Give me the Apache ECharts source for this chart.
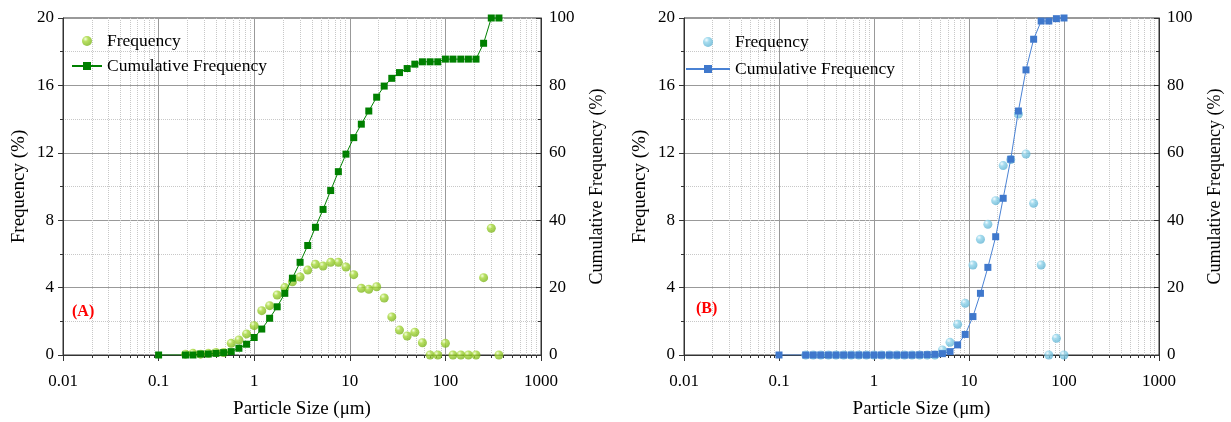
<!DOCTYPE html>
<html>
<head>
<meta charset="utf-8">
<script src="https://cdn.jsdelivr.net/npm/echarts@6/dist/echarts.min.js"></script>
<style>
html, body { margin: 0; padding: 0; background: #fff; }
#chart { width: 1231px; height: 422px; }
</style>
</head>
<body>
<div id="chart"></div>
<script>
// particle size bins (µm)
var sizeBins = [0.191, 0.229, 0.275, 0.331, 0.398, 0.479, 0.575, 0.692, 0.832, 1.0,
    1.2, 1.45, 1.74, 2.09, 2.51, 3.02, 3.63, 4.37, 5.25, 6.31,
    7.59, 9.12, 11.0, 13.2, 15.8, 19.1, 22.9, 27.5, 33.1, 39.8,
    47.9, 57.5, 69.2, 83.2, 100, 120, 145, 174, 209, 251, 302, 363];
var startSize = 0.1;

// (A)
var freqA = [0.05, 0.1, 0.05, 0.1, 0.15, 0.15, 0.69, 0.89, 1.25, 1.74,
    2.63, 2.93, 3.56, 4.0, 4.35, 4.63, 5.04, 5.38, 5.28, 5.5,
    5.5, 5.22, 4.77, 3.96, 3.9, 4.05, 3.38, 2.26, 1.48, 1.13,
    1.35, 0.73, 0, 0, 0.69, 0, 0, 0, 0, 4.59, 7.52, 0];
var cumA = [0, 0, 0.3, 0.3, 0.5, 0.7, 1.0, 2.0, 3.2, 5.2,
    7.7, 10.9, 14.3, 18.3, 22.8, 27.5, 32.5, 37.9, 43.2, 48.8,
    54.4, 59.6, 64.5, 68.5, 72.4, 76.5, 79.8, 82.1, 83.8, 85.0,
    86.3, 87.0, 87.0, 87.0, 87.8, 87.8, 87.8, 87.8, 87.8, 92.5, 100, 100];

// (B)
var freqB = [0, 0, 0, 0, 0, 0, 0, 0, 0, 0,
    0, 0, 0, 0, 0, 0, 0, 0, 0.3, 0.75,
    1.82, 3.07, 5.34, 6.87, 7.76, 9.16, 11.24, 11.6, 14.3, 11.93,
    9.0, 5.34, 0, 0.99, 0];
var cumB = [0, 0, 0, 0, 0, 0, 0, 0, 0, 0,
    0, 0, 0, 0, 0, 0.05, 0.1, 0.2, 0.4, 1.0,
    3.0, 6.1, 11.4, 18.3, 26.0, 35.1, 46.5, 58.1, 72.4, 84.6,
    93.7, 99.1, 99.1, 99.8, 100];

var xTicks = [0.01, 0.1, 1, 10, 100, 1000];

function pairs(xs, ys) {
    return ys.map(function (v, i) { return [xs[i], v]; });
}

var serif = 'Liberation Serif';
var labelStyle = { color: '#000', fontFamily: serif, fontSize: 17 };

function xAxisFor(idx) {
    return {
        type: 'log', logBase: 10, gridIndex: idx,
        min: xTicks[0], max: xTicks[xTicks.length - 1],
        name: 'Particle Size (μm)', nameLocation: 'middle', nameGap: 45,
        nameTextStyle: { color: '#000', fontFamily: serif, fontSize: 19 },
        axisLine: { onZero: false, lineStyle: { color: '#333', width: 1 } },
        axisTick: { inside: false, length: 6, lineStyle: { color: '#333' } },
        minorTick: { show: true, splitNumber: 9, length: 3, lineStyle: { color: '#333' } },
        axisLabel: Object.assign({ margin: 18, formatter: function (v) { return String(v); } }, labelStyle),
        splitLine: { show: true, lineStyle: { color: '#999', width: 1 } },
        minorSplitLine: { show: true, lineStyle: { color: '#c8c8c8', type: 'dotted', width: 1 } }
    };
}

function yAxesFor(idx) {
    return [{
        type: 'value', gridIndex: idx, position: 'left',
        min: 0, max: 20, interval: 4,
        name: 'Frequency (%)', nameLocation: 'middle', nameGap: 34,
        nameTextStyle: { color: '#000', fontFamily: serif, fontSize: 19 },
        axisLine: { show: true, lineStyle: { color: '#333' } },
        axisTick: { show: true, inside: false, length: 5, lineStyle: { color: '#333' } },
        minorTick: { show: true, splitNumber: 2, length: 3, lineStyle: { color: '#333' } },
        axisLabel: Object.assign({ margin: 9 }, labelStyle),
        splitLine: { show: true, lineStyle: { color: '#999', width: 1 } },
        minorSplitLine: { show: true, lineStyle: { color: '#c8c8c8', type: 'dotted', width: 1 } }
    }, {
        type: 'value', gridIndex: idx, position: 'right',
        min: 0, max: 100, interval: 20,
        name: 'Cumulative Frequency (%)', nameLocation: 'middle', nameGap: 47,
        nameTextStyle: { color: '#000', fontFamily: serif, fontSize: 18 },
        axisLine: { show: true, lineStyle: { color: '#333' } },
        axisTick: { show: true, inside: true, length: 5, lineStyle: { color: '#333' } },
        minorTick: { show: true, splitNumber: 2, length: 3, lineStyle: { color: '#333' } },
        axisLabel: Object.assign({ margin: 8 }, labelStyle),
        splitLine: { show: false }
    }];
}

function sphere(light, mid, dark) {
    return new echarts.graphic.RadialGradient(0.35, 0.3, 0.75, [
        { offset: 0, color: light },
        { offset: 0.35, color: mid },
        { offset: 1, color: dark }
    ]);
}

var yA = yAxesFor(0), yB = yAxesFor(1);

var option = {
    animation: false,
    backgroundColor: '#fff',
    grid: [
        { left: 63, top: 18, width: 478, height: 337, show: true, borderColor: '#333', borderWidth: 1, outerBoundsMode: 'none' },
        { left: 684, top: 18, width: 475, height: 337, show: true, borderColor: '#333', borderWidth: 1, outerBoundsMode: 'none' }
    ],
    xAxis: [xAxisFor(0), xAxisFor(1)],
    yAxis: [yA[0], yA[1], yB[0], yB[1]],
    legend: [{
        left: 66, top: 26, orient: 'vertical', itemWidth: 30, itemHeight: 10, itemGap: 5,
        textStyle: { color: '#000', fontFamily: serif, fontSize: 17.5, lineHeight: 20 },
        data: ['Frequency (A)', 'Cumulative Frequency (A)'],
        formatter: function (n) { return n.replace(' (A)', ''); }
    }, {
        left: 680, top: 27, orient: 'vertical', itemWidth: 44, itemHeight: 10, itemGap: 7,
        textStyle: { color: '#000', fontFamily: serif, fontSize: 17.5, lineHeight: 20 },
        data: ['Frequency (B)', 'Cumulative Frequency (B)'],
        formatter: function (n) { return n.replace(' (B)', ''); }
    }],
    graphic: [
        { type: 'text', left: 72, top: 304, z: 100, style: { text: '(A)', fill: '#ff0000', font: 'bold 16px "Liberation Serif"' } },
        { type: 'text', left: 696, top: 301, z: 100, style: { text: '(B)', fill: '#ff0000', font: 'bold 16px "Liberation Serif"' } }
    ],
    series: [{
        name: 'Frequency (A)', type: 'scatter', xAxisIndex: 0, yAxisIndex: 0,
        symbol: 'circle', symbolSize: 9,
        itemStyle: { color: sphere('#f2ffd2', '#a6d83a', '#79b21b') },
        data: pairs(sizeBins, freqA)
    }, {
        name: 'Cumulative Frequency (A)', type: 'line', xAxisIndex: 0, yAxisIndex: 1,
        symbol: 'rect', symbolSize: 7, showAllSymbol: true,
        lineStyle: { color: '#008000', width: 1 },
        itemStyle: { color: '#008000' },
        data: [[startSize, 0]].concat(pairs(sizeBins, cumA))
    }, {
        name: 'Frequency (B)', type: 'scatter', xAxisIndex: 1, yAxisIndex: 2,
        symbol: 'circle', symbolSize: 9,
        itemStyle: { color: sphere('#effaff', '#8fd3ea', '#5fb2d2') },
        data: pairs(sizeBins, freqB)
    }, {
        name: 'Cumulative Frequency (B)', type: 'line', xAxisIndex: 1, yAxisIndex: 3,
        symbol: 'rect', symbolSize: 7, showAllSymbol: true,
        lineStyle: { color: '#4a82d4', width: 1 },
        itemStyle: { color: '#3f78cc' },
        data: [[startSize, 0]].concat(pairs(sizeBins, cumB))
    }]
};

var myChart = echarts.init(document.getElementById('chart'));
myChart.setOption(option);
</script>
</body>
</html>
